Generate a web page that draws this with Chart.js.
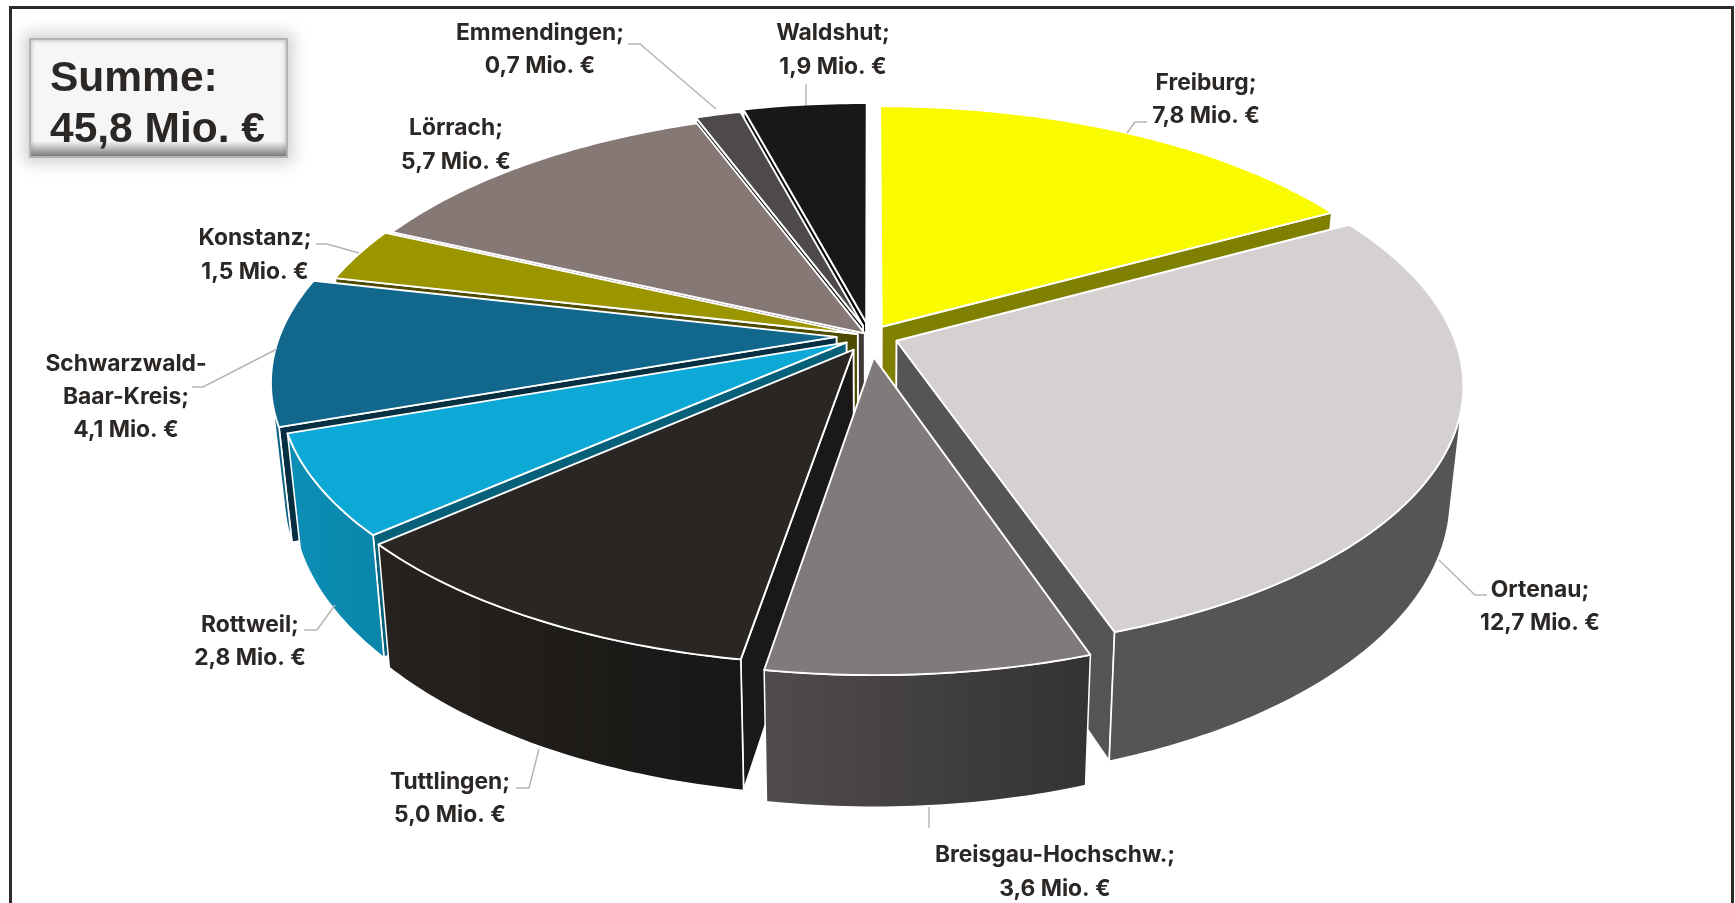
<!DOCTYPE html>
<html lang="de">
<head>
<meta charset="utf-8">
<title>Summe 45,8 Mio. €</title>
<script src="https://cdn.jsdelivr.net/npm/chart.js@4"></script>
<style>
html,body{margin:0;padding:0;background:#fff;overflow:hidden;width:1735px;height:903px}
#stage{position:relative;width:1735px;height:903px;overflow:hidden}
#c{position:absolute;left:0;top:0}
#frame{position:absolute;left:9px;top:6px;width:1719px;height:920px;border:3px solid #2e2a28;box-sizing:content-box;pointer-events:none}
#box{position:absolute;left:29px;top:38px;width:259px;height:120px;box-sizing:border-box;border:2px solid #b4b2b2;
background:linear-gradient(#f6f6f7 0,#f6f6f7 87%,#c9c9c9 92%,#7c7c7c 100%);
box-shadow:0 0 14px 5px rgba(150,140,140,.42),inset 0 0 5px rgba(130,130,130,.55);
font:bold 42.5px/51px "Liberation Sans",Arial,sans-serif;color:#2b2725;padding:11px 0 0 19px;white-space:nowrap}
</style>
</head>
<body>
<div id="stage">
<canvas id="c" width="1735" height="903"></canvas>
<div id="frame"></div>
<div id="box">Summe:<br>45,8 Mio. €</div>
</div>
<script>
const categories = ['Freiburg','Ortenau','Breisgau-Hochschw.','Tuttlingen','Rottweil','Schwarzwald-Baar-Kreis','Konstanz','Lörrach','Emmendingen','Waldshut'];
const values     = [7.8,12.7,3.6,5.0,2.8,4.1,1.5,5.7,0.7,1.9];
const topColors  = ['#fbfb00','#d5d1d1','#807a7a','#2a2623','#0ca8d6','#12688c','#9b9600','#867875','#4f4a4a','#191816'];
const wallColors = ['#7f7f00','#565553','#403d3d','#1a1917','#07607a','#062f42','#4e4b00','#3f3836','#111010','#0b0a0a'];
const sideLeft   = ['#7f7f00','#565553','#504c4b','#26221f','#0c8fb6','#11709a','#6e6b00','#5c5250','#333030','#111010'];
const sideRight  = ['#7f7f00','#565553','#343233','#181715','#0a86ab','#0e6384','#6e6b00','#5c5250','#333030','#111010'];
const explode    = [18,22,35,26,21,26,10,6,18,23];

// Label layout: centre x and line centres, then leader polyline
const labelLayout = [
  {x:1206,y:[83,116],lead:[[1147,122],[1135,122],[1127,133]]},
  {x:1540,y:[590,623],lead:[[1487,595],[1475,595],[1439,560]]},
  {x:1055,y:[855,889],lead:[[929,807],[929,828]]},
  {x:450,y:[782,815],lead:[[516,788],[529,788],[539,749]]},
  {x:250,y:[625,658],lead:[[304,630],[317,630],[335,605]]},
  {x:126,y:[364,397,430],lead:[[192,387],[203,387],[277,349]]},
  {x:255,y:[238,272],lead:[[316,244],[327,244],[359,253]]},
  {x:456,y:[128,162],lead:null},
  {x:540,y:[33,66],lead:[[628,44],[640,44],[716,109]]},
  {x:833,y:[33,67],lead:[[806,84],[806,105]]}
];
const view = {cx:870,cy:336,A:557,B:259,k:0.1617,shrink:0.978,H:109};

function top3d(U,V){const w=1-view.k*V;return [view.cx+view.A*U/w, view.cy+view.B*V/w];}
function bot3d(U,V){const w=1-view.k*V;return [view.cx+view.shrink*view.A*U/w, view.cy+(view.B*V+view.H)/w];}
function poly(ctx,pts){ctx.beginPath();pts.forEach((p,i)=>i?ctx.lineTo(p[0],p[1]):ctx.moveTo(p[0],p[1]));ctx.closePath();}
function cross(a,b){return a[0]*b[1]-a[1]*b[0];}
function area(pts){let s=0;pts.forEach((p,i)=>{const q=pts[(i+1)%pts.length];s+=p[0]*q[1]-q[0]*p[1];});return s;}
function fmt(v){return v.toFixed(1).replace('.',',')+' Mio. €';}

const pie3d = {
  id:'pie3d',
  beforeDatasetsDraw(chart){
    const ctx=chart.ctx, arcs=chart.getDatasetMeta(0).data;
    const order=arcs.map((a,i)=>i).sort((i,j)=>{
      const mi=(arcs[i].startAngle+arcs[i].endAngle)/2, mj=(arcs[j].startAngle+arcs[j].endAngle)/2;
      return Math.sin(mi)-Math.sin(mj);
    });
    ctx.save();
    ctx.lineJoin='round';
    order.forEach(i=>{
      const a=arcs[i], o=a.options, R=a.outerRadius, d=(o.offset||0)/R;
      const mid=(a.startAngle+a.endAngle)/2, du=d*Math.cos(mid), dv=d*Math.sin(mid);
      const n=Math.max(4,Math.ceil((a.endAngle-a.startAngle)/0.015));
      const rimT=[],rimB=[];
      for(let s=0;s<=n;s++){
        const t=a.startAngle+(a.endAngle-a.startAngle)*s/n;
        const U=Math.cos(t)+du,V=Math.sin(t)+dv;
        rimT.push(top3d(U,V));rimB.push(bot3d(U,V));
      }
      const apexT=top3d(du,dv), apexB=bot3d(du,dv);
      const midRim=rimT[Math.floor(n/2)];
      const inner=[midRim[0]-apexT[0],midRim[1]-apexT[1]];
      ctx.strokeStyle=o.borderColor; ctx.lineWidth=o.borderWidth;
      // radial cut walls
      [0,n].forEach(k=>{
        const edge=[rimT[k][0]-apexT[0],rimT[k][1]-apexT[1]];
        const sh=[rimB[k][0]-rimT[k][0],rimB[k][1]-rimT[k][1]];
        if(Math.sign(cross(edge,sh))===Math.sign(cross(edge,inner))) return;
        poly(ctx,[apexT,rimT[k],rimB[k],apexB]);
        ctx.fillStyle=wallColors[i];ctx.fill();ctx.stroke();
      });
      // outer wall, camera-facing segments only
      const front=[];
      for(let s=0;s<n;s++){
        if(area([rimT[s],rimT[s+1],rimB[s+1],rimB[s]])<0) front.push(s);
      }
      if(front.length){
        const f0=front[0], f1=front[front.length-1]+1;
        const upper=rimT.slice(f0,f1+1), lower=rimB.slice(f0,f1+1).reverse();
        const xs=upper.map(p=>p[0]);
        const g=ctx.createLinearGradient(Math.min(...xs),0,Math.max(...xs),0);
        g.addColorStop(0,sideLeft[i]);g.addColorStop(1,sideRight[i]);
        poly(ctx,upper.concat(lower));
        ctx.fillStyle=g;ctx.fill();
        ctx.lineWidth=o.borderWidth*0.8;ctx.stroke();ctx.lineWidth=o.borderWidth;
      }
      // top face
      poly(ctx,[apexT].concat(rimT));
      ctx.fillStyle=o.backgroundColor;ctx.fill();ctx.stroke();
    });
    ctx.restore();
    return false;
  },
  afterDraw(chart){
    const ctx=chart.ctx;
    ctx.save();
    ctx.textAlign='center';ctx.textBaseline='middle';
    labelLayout.forEach((l,i)=>{
      if(l.lead){
        ctx.beginPath();
        l.lead.forEach((p,j)=>j?ctx.lineTo(p[0],p[1]):ctx.moveTo(p[0],p[1]));
        ctx.strokeStyle='#b9b4b0';ctx.lineWidth=1.5;ctx.stroke();
      }
      const name=categories[i];
      const lines=(l.y.length===3?[name.slice(0,12),name.slice(12)+';']:[name+';']).concat([fmt(values[i])]);
      ctx.fillStyle='#2b2725';ctx.font='700 22.8px Inter, "Noto Sans", sans-serif';
      lines.forEach((t,k)=>ctx.fillText(t,l.x,l.y[k]));
    });
    ctx.restore();
  }
};

new Chart(document.getElementById('c'),{
  type:'pie',
  data:{labels:categories,datasets:[{data:values,backgroundColor:topColors,offset:explode,borderColor:'#ffffff',borderWidth:1.9}]},
  options:{responsive:false,animation:false,events:[],
    plugins:{legend:{display:false},tooltip:{enabled:false},title:{display:false}}},
  plugins:[pie3d]
});
</script>
</body>
</html>
